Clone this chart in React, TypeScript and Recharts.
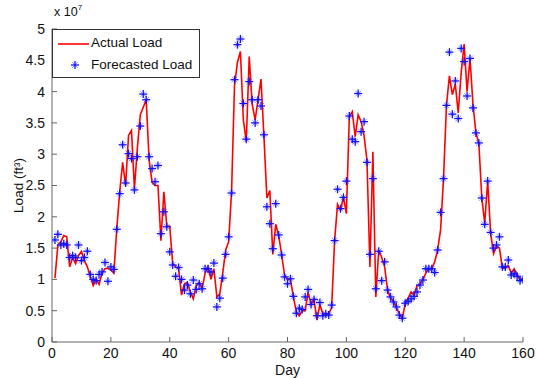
import React from 'react';
import { LineChart, Line, XAxis, YAxis, Legend } from 'recharts';

// values in units of 1e7 ft^3, one per day (day 1..160)
const actualLoad = [
  1.02, 1.55, 1.6, 1.7, 1.68, 1.2, 1.35, 1.25, 1.38, 1.45,
  1.3, 1.2, 1.05, 0.9, 1.0, 0.92, 1.1, 1.17, 1.18, 1.15,
  1.1, 1.8, 2.4, 2.87, 2.5, 3.3, 3.38, 2.45, 3.1, 3.63,
  3.75, 3.87, 2.9, 2.55, 2.5, 2.5, 1.62, 2.4, 1.85, 1.85,
  1.25, 1.2, 1.17, 0.75, 0.93, 0.95, 0.8, 0.69, 0.9, 0.95,
  0.85, 1.1, 1.2, 1.0, 1.17, 0.72, 0.77, 1.1, 1.47, 1.6,
  2.4, 4.1, 4.47, 4.64, 3.55, 3.2, 4.56, 3.8, 3.55, 3.87,
  4.2, 3.28, 2.3, 2.42, 1.4, 1.88, 1.7, 1.4, 1.07, 1.0,
  1.0, 0.72, 0.48, 0.42, 0.5, 0.5, 0.8, 0.6, 0.68, 0.35,
  0.6, 0.45, 0.45, 0.45, 0.55, 1.62, 2.2, 2.1, 2.32, 2.05,
  3.6, 3.68, 3.28, 3.63, 3.52, 3.3, 2.9, 1.2, 3.04, 0.72,
  1.47, 1.35, 1.2, 0.83, 0.7, 0.65, 0.55, 0.45, 0.37, 0.62,
  0.7, 0.8, 0.75, 0.9, 0.92, 1.0, 1.1, 1.17, 1.17, 1.28,
  1.47, 1.79, 2.61, 3.78, 4.25, 3.95, 4.12, 3.66, 4.3, 4.76,
  4.0, 4.53, 3.8, 3.34, 3.18, 2.3, 1.9, 2.57, 1.74, 1.41,
  1.53, 1.5, 1.18, 1.18, 1.22, 1.1, 1.17, 1.07, 1.0, 1.0,
];

const forecastLoad = [
  1.63, 1.72, 1.55, 1.57, 1.55, 1.35, 1.38, 1.35, 1.55, 1.3,
  1.35, 1.45, 1.08, 1.0, 0.98, 1.08, 1.12, 1.27, 0.97, 1.2,
  1.16, 1.8, 2.37, 3.15, 2.54, 3.01, 2.93, 2.43, 2.96, 3.45,
  3.96, 3.87, 2.96, 2.77, 2.56, 2.82, 1.73, 2.08, 1.84, 1.44,
  1.23, 1.05, 1.19, 1.0, 0.83, 0.91, 0.77, 0.99, 0.84, 0.93,
  0.85, 1.17, 1.17, 1.12, 1.26, 0.56, 0.7, 1.02, 1.4, 1.68,
  2.38, 4.19, 4.75, 4.84, 3.81, 3.24, 4.16, 3.87, 3.5, 3.87,
  3.77, 3.31, 2.16, 1.89, 1.49, 2.21, 1.71, 1.39, 1.04, 0.93,
  1.01, 0.73, 0.46, 0.54, 0.52, 0.72, 0.84, 0.6, 0.68, 0.42,
  0.63, 0.42, 0.45, 0.43, 0.59, 1.62, 2.44, 2.13, 2.31, 2.57,
  3.61, 3.24, 3.2, 3.97, 3.36, 3.52, 2.87, 1.4, 2.61, 0.85,
  1.45, 0.98, 1.28, 0.83, 0.72, 0.64, 0.56, 0.43, 0.38, 0.62,
  0.65, 0.69, 0.73, 0.8, 0.91, 0.99, 1.17, 1.17, 1.17, 1.11,
  1.47, 2.07, 2.61, 3.78, 4.63, 3.64, 4.17, 3.57, 4.69, 4.48,
  3.93, 4.53, 3.74, 3.34, 3.18, 2.3, 1.88, 2.57, 1.75, 1.5,
  1.55, 1.68, 1.2, 1.2, 1.31, 1.07, 1.09, 1.05, 0.98, 1.0,
];

const xTicks = [0, 20, 40, 60, 80, 100, 120, 140, 160];
const yTicks = [0, 0.5, 1, 1.5, 2, 2.5, 3, 3.5, 4, 4.5, 5];

const data = actualLoad.map((v, i) => ({
  day: i + 1,
  actual: v,
  forecast: forecastLoad[i],
}));

const FONT = '"Liberation Sans", Arial, sans-serif';
const AXIS = '#666';
const tickStyle = { fontSize: 14, fill: '#111', fontFamily: FONT };

const StarDot = (props: any) => {
  const { cx, cy, index } = props;
  if (cx == null || cy == null) return <g key={`s-${index}`} />;
  const r = 4;
  const d = 2.8;
  return (
    <g key={`s-${index}`} stroke="#1010ff" strokeWidth={1.3}>
      <line x1={cx - r} y1={cy} x2={cx + r} y2={cy} />
      <line x1={cx} y1={cy - r} x2={cx} y2={cy + r} />
      <line x1={cx - d} y1={cy - d} x2={cx + d} y2={cy + d} strokeWidth={0.8} strokeOpacity={0.6} />
      <line x1={cx - d} y1={cy + d} x2={cx + d} y2={cy - d} strokeWidth={0.8} strokeOpacity={0.6} />
    </g>
  );
};

const renderLegend = () => (
  <div
    style={{
      width: 148,
      height: 49,
      boxSizing: 'border-box',
      border: '1px solid #333',
      background: '#fff',
      fontFamily: FONT,
      fontSize: 13.5,
      color: '#111',
      position: 'relative',
    }}
  >
    <svg width={40} height={47} style={{ position: 'absolute', left: 0, top: 0 }}>
      <line x1={5} y1={14} x2={36} y2={14} stroke="#ff0000" strokeWidth={1.6} />
      <StarDot cx={22} cy={35} index={0} />
    </svg>
    <span style={{ position: 'absolute', left: 38, top: 5 }}>Actual Load</span>
    <span style={{ position: 'absolute', left: 38, top: 27 }}>Forecasted Load</span>
  </div>
);

export default function App() {
  return (
    <div style={{ position: 'absolute', left: 0, top: 0, width: 536, height: 378, background: '#fff' }}>
      <LineChart
        width={536}
        height={378}
        data={data}
        margin={{ top: 29, right: 13, bottom: 0, left: 0 }}
      >
        <XAxis
          dataKey="day"
          type="number"
          domain={[0, 160]}
          ticks={xTicks}
          allowDataOverflow
          height={36}
          stroke={AXIS}
          tickSize={-5}
          tickMargin={11}
          tick={tickStyle}
          label={{ value: 'Day', position: 'insideBottom', offset: 3, style: { fontSize: 14, fill: '#111', fontFamily: FONT } }}
        />
        <XAxis
          xAxisId="top"
          orientation="top"
          dataKey="day"
          type="number"
          domain={[0, 160]}
          ticks={xTicks}
          height={0}
          stroke={AXIS}
          tickSize={-5}
          tickFormatter={() => ''}
        />
        <YAxis
          type="number"
          domain={[0, 5]}
          ticks={yTicks}
          width={52}
          stroke={AXIS}
          tickSize={-5}
          tickMargin={12}
          tick={tickStyle}
          tickFormatter={(v: number) => String(v)}
          label={{
            value: 'Load (ft³)',
            angle: -90,
            position: 'insideLeft',
            offset: 18,
            style: { textAnchor: 'middle', fontSize: 13.5, fill: '#111', fontFamily: FONT },
          }}
        />
        <YAxis
          yAxisId="right"
          orientation="right"
          type="number"
          domain={[0, 5]}
          ticks={yTicks}
          width={0}
          stroke={AXIS}
          tickSize={-5}
          tickFormatter={() => ''}
        />
        <Legend
          layout="vertical"
          align="center"
          verticalAlign="middle"
          content={renderLegend}
          wrapperStyle={{ position: 'absolute', left: 52, top: 29, width: 148, height: 49 }}
        />
        <Line
          type="linear"
          dataKey="actual"
          name="Actual Load"
          stroke="#ff0000"
          strokeWidth={1.6}
          dot={false}
          activeDot={false}
          isAnimationActive={false}
        />
        <Line
          type="linear"
          dataKey="forecast"
          name="Forecasted Load"
          stroke="none"
          dot={StarDot}
          activeDot={false}
          isAnimationActive={false}
        />
      </LineChart>
      <div
        style={{
          position: 'absolute',
          left: 54,
          top: 4,
          fontFamily: FONT,
          fontSize: 12.5,
          color: '#111',
        }}
      >
        x 10<sup style={{ fontSize: 8, position: 'relative', top: -1 }}>7</sup>
      </div>
    </div>
  );
}
